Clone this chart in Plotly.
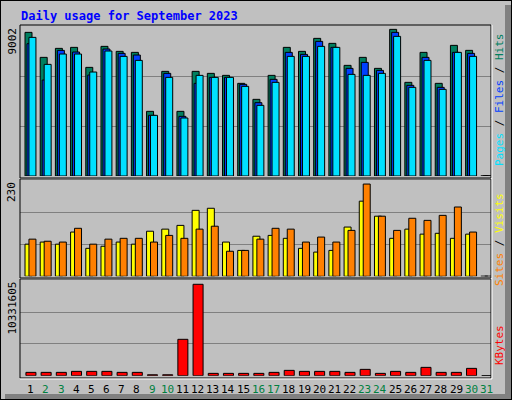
import plotly.graph_objects as go

days = list(range(1, 32))
hits = [8620,7120,7660,7720,6520,7780,7480,7420,3880,6280,3880,6280,6160,6040,5560,4600,6040,7720,7480,8260,7960,6640,7120,6460,8800,5620,7420,5560,7840,7540,0]
files = [7940,5760,7540,7440,6060,7620,7360,7260,3640,6160,3580,5560,5920,5920,5500,4400,5800,7420,7300,8080,7720,6460,6820,6340,8620,5440,7120,5320,7420,7360,0]
pages = [8320,6700,7320,7320,6240,7500,7180,6940,3640,5920,3480,6040,5920,5920,5380,4240,5620,7180,7180,7780,7720,6100,6040,6160,8380,5320,6940,5200,7420,7180,0]
visits = [77,82,77,106,67,72,82,77,108,113,122,158,163,82,62,96,98,91,67,58,62,118,180,144,91,113,101,103,91,101,0]
sites = [89,84,82,115,77,89,91,91,82,98,91,113,120,60,62,89,115,113,82,94,82,110,221,144,110,139,134,146,166,106,0]
kbytes = [361000,361000,361000,470000,470000,470000,361000,361000,100000,100000,3940000,9900000,253000,253000,253000,253000,361000,578000,470000,470000,470000,361000,686000,253000,470000,361000,903000,361000,361000,795000,0]
max_hits = 9002
max_sites = 230
max_kb = 10331605
weekend = {2,3,9,10,16,17,23,24,30,31}

W, H = 512, 400
def py(p): return 1 - p / H
def px(p): return p / W

fig = go.Figure()
line = dict(color="black", width=1)
def bar(y, color, off, wid, ax):
    fig.add_trace(go.Bar(x=days, y=y, offset=off, width=wid, marker=dict(color=color, line=line),
                         xaxis="x" + ax, yaxis="y" + ax, showlegend=False, hoverinfo="skip"))
bar(hits, "#007F5F", -0.32, 0.46, "")
bar(files, "#0040FF", -0.19, 0.46, "")
bar(pages, "#00E0FF", -0.06, 0.46, "")
bar(visits, "#FFFF00", -0.32, 0.46, "2")
bar(sites, "#FF8000", -0.06, 0.46, "2")
bar(kbytes, "#FF0000", -0.26, 0.66, "3")

xr = [0.35, 31.35]
xd = [px(20), px(491)]
common_x = dict(range=xr, domain=xd, showgrid=False, showticklabels=False, zeroline=False, fixedrange=True)
def yax(dom, mx):
    return dict(domain=dom, range=[0, mx], tickvals=[mx/3, 2*mx/3], showticklabels=False,
                gridcolor="#808080", gridwidth=1, zeroline=False, showline=False)

fig.update_layout(
    width=W, height=H, margin=dict(l=0, r=0, t=0, b=0),
    paper_bgcolor="#C0C0C0", plot_bgcolor="#C0C0C0", barmode="overlay",
    xaxis=dict(common_x, anchor="y"), yaxis=yax([py(176), py(26)], max_hits),
    xaxis2=dict(common_x, anchor="y2"), yaxis2=yax([py(276.3), py(180.3)], max_sites),
    xaxis3=dict(common_x, anchor="y3"), yaxis3=yax([py(375.7), py(280.3)], max_kb),
)

shapes = []
shapes.append(dict(type="rect", xref="paper", yref="paper", x0=px(505), x1=px(511), y0=py(399), y1=py(5), fillcolor="#808080", line_width=0, layer="below"))
shapes.append(dict(type="rect", xref="paper", yref="paper", x0=px(5), x1=px(511), y0=py(399), y1=py(394), fillcolor="#808080", line_width=0, layer="below"))
shapes.append(dict(type="rect", xref="paper", yref="paper", x0=0, x1=1, y0=0, y1=1, line=dict(color="black", width=2), fillcolor="rgba(0,0,0,0)"))
for top, bot in [(25, 178), (179, 278), (279, 378)]:
    shapes.append(dict(type="rect", xref="paper", yref="paper", x0=px(20), x1=px(491), y0=py(bot), y1=py(top),
                       line=dict(color="black", width=1)))
    shapes.append(dict(type="line", xref="paper", yref="paper", x0=px(20), x1=px(492), y0=py(bot + 1), y1=py(bot + 1),
                       line=dict(color="white", width=1)))
    shapes.append(dict(type="line", xref="paper", yref="paper", x0=px(492), x1=px(492), y0=py(bot + 1), y1=py(top),
                       line=dict(color="white", width=1)))
fig.update_layout(shapes=shapes)

font = "DejaVu Sans Mono"
ann = []
ann.append(dict(text="<b>Daily usage for September 2023</b>", x=px(19), y=py(16), xref="paper", yref="paper",
                xanchor="left", yanchor="middle", showarrow=False, font=dict(family=font, size=12, color="#0000FF")))
for lab, yc in [(str(max_hits), 26), (str(max_sites), 180), (str(max_kb), 280)]:
    ann.append(dict(text=lab, x=px(12), y=py(yc), xref="paper", yref="paper", xanchor="center", yanchor="top",
                    textangle=-90, showarrow=False, font=dict(family=font, size=11, color="black")))
def rlab(parts, ymid):
    txt = "<span style='color:black'> / </span>".join(f"<span style='color:{c}'>{t}</span>" for t, c in parts)
    ann.append(dict(text=txt, x=px(499), y=py(ymid), xref="paper", yref="paper", xanchor="center", yanchor="middle",
                    textangle=-90, showarrow=False, font=dict(family=font, size=11)))
rlab([("Pages", "#00E0FF"), ("Files", "#0040FF"), ("Hits", "#007F5F")], 100)
rlab([("Sites", "#FF8000"), ("Visits", "#FFFF00")], 240)
rlab([("KBytes", "#FF0000")], 345)
for d in days:
    ann.append(dict(text=str(d), x=d + 0.05, y=py(389), xref="x3", yref="paper", xanchor="center", yanchor="middle",
                    showarrow=False, font=dict(family=font, size=11, color="#008040" if d in weekend else "black")))
fig.update_layout(annotations=ann)

fig.write_html("out.html", config={"displayModeBar": False},
               post_script="document.body.style.margin='0';document.body.style.overflow='hidden';")
